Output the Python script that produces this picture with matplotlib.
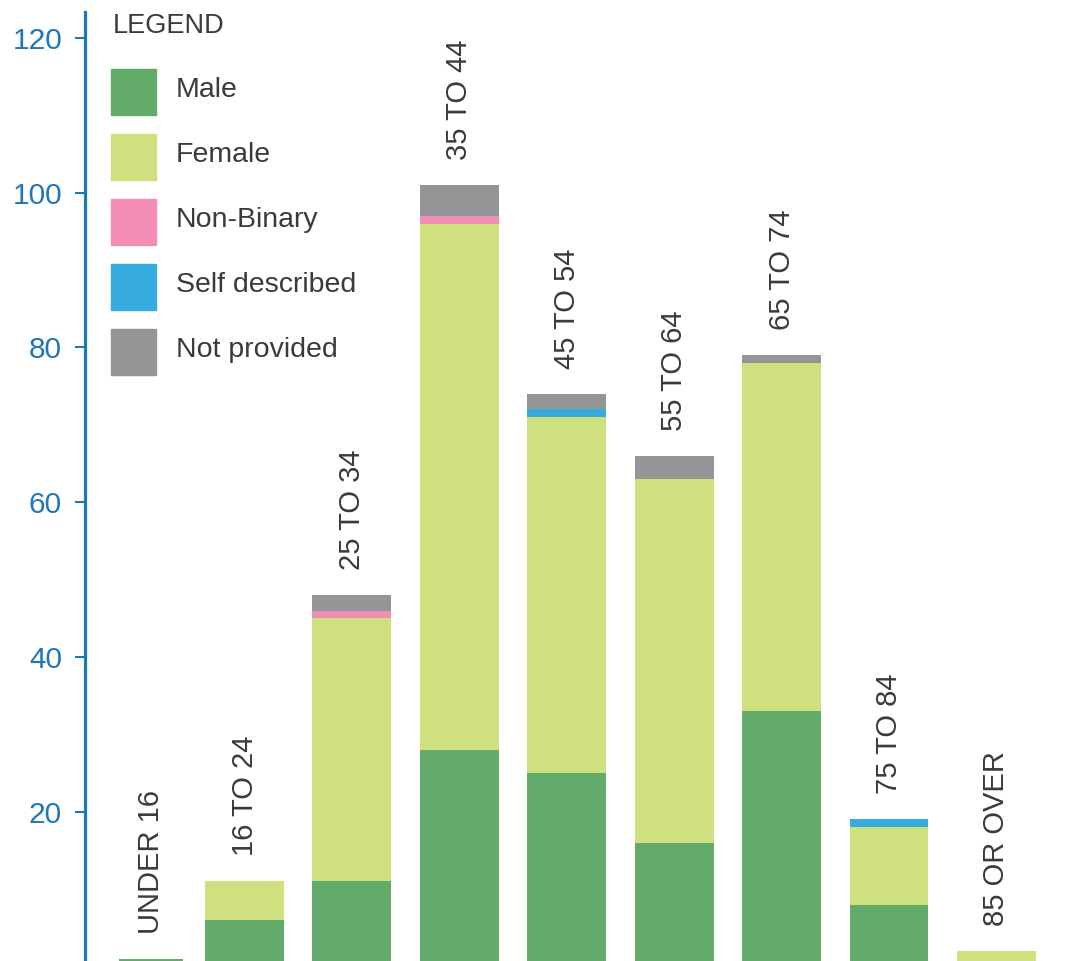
import numpy as np
import matplotlib.pyplot as plt
from matplotlib.patches import Rectangle

plt.rcParams['font.family'] = ['Liberation Sans', 'DejaVu Sans']

grupos = ['UNDER 16', '16 TO 24', '25 TO 34', '35 TO 44', '45 TO 54',
          '55 TO 64', '65 TO 74', '75 TO 84', '85 OR OVER']
male = [1, 6, 11, 28, 25, 16, 33, 8, 0]
female = [0, 5, 34, 68, 46, 47, 45, 10, 2]
non_binary = [0, 0, 1, 1, 0, 0, 0, 0, 0]
self_described = [0, 0, 0, 0, 1, 0, 0, 1, 0]
not_provided = [0, 0, 2, 4, 2, 3, 1, 0, 0]

series = [('Male', male, '#62ab6b'),
          ('Female', female, '#cfe17f'),
          ('Non-Binary', non_binary, '#f28db6'),
          ('Self described', self_described, '#35abdf'),
          ('Not provided', not_provided, '#959597')]

azul = '#1f76b8'
texto = '#3a3a3a'

W, H = 1077, 961
fig = plt.figure(figsize=(W / 100, H / 100), dpi=100)
ax = fig.add_axes([85 / W, 0, (W - 85) / W, 1])

# a primeira barra fica um pouco deslocada no original
x = np.arange(len(grupos), dtype=float)
x[0] = 0.13
larguras = [0.6] + [0.735] * (len(grupos) - 1)

base = np.zeros(len(grupos))
for nome, vals, cor in series:
    v = np.array(vals, dtype=float)
    ax.bar(x, v, bottom=base, width=larguras, color=cor, label=nome)
    base += v

for xi, total, g in zip(x, base, grupos):
    ax.annotate(g, xy=(xi, total), xytext=(0, 18), textcoords='offset points',
                rotation=90, ha='center', va='bottom', fontsize=21, color=texto)

ax.set_xlim(-0.485, 8.75)
ax.set_ylim(0.71, 124.9)
ax.set_yticks([20, 40, 60, 80, 100, 120])
ax.set_xticks([])
ax.tick_params(axis='y', colors=azul, labelsize=21.5, length=7.5, width=1.5, pad=9)
for s in ['top', 'right', 'bottom']:
    ax.spines[s].set_visible(False)
ax.spines['left'].set_color(azul)
ax.spines['left'].set_linewidth(2.3)
ax.spines['left'].set_bounds(0.71, 123.3)

# legenda desenhada a mao (pixels da figura)
fig.text(113 / W, 1 - 26 / H, 'LEGEND', fontsize=19.5, color=texto, va='center', ha='left')
for i, (nome, _, cor) in enumerate(series):
    yc = 92 + i * 65
    fig.patches.append(Rectangle((111 / W, 1 - (yc + 23) / H), 45 / W, 46 / H,
                                 color=cor, transform=fig.transFigure, figure=fig))
    fig.text(176 / W, 1 - (yc - 2) / H, nome, fontsize=20.5, color=texto,
             va='center', ha='left')

plt.savefig('out.png', dpi=100)
